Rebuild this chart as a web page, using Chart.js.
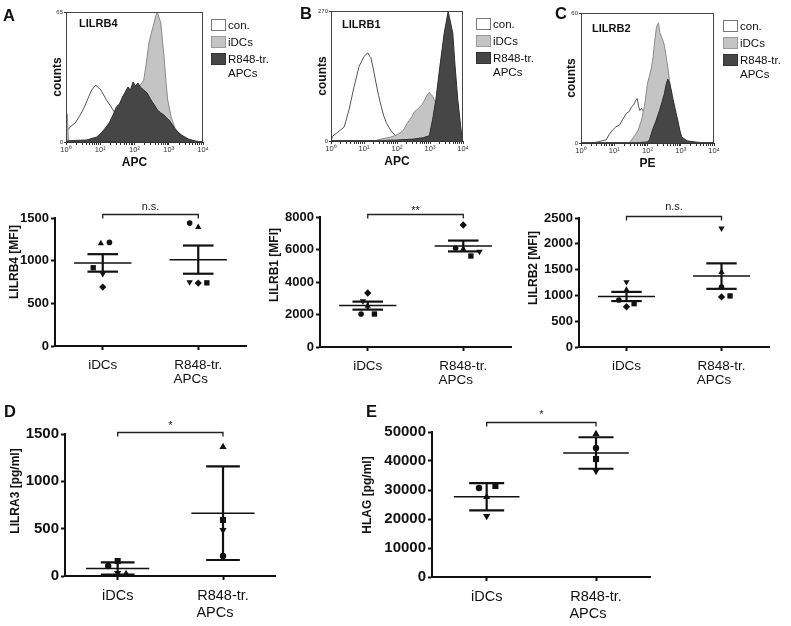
<!DOCTYPE html>
<html>
<head>
<meta charset="utf-8">
<title>LILR receptors on iDCs and R848-treated APCs</title>
<script src="https://cdn.jsdelivr.net/npm/chart.js@4.4.1/dist/chart.umd.min.js"></script>
<style>
  body { margin: 0; background: #fff; }
  #fig { position: relative; width: 791px; height: 626px; overflow: hidden; font-family: "Liberation Sans", Arial, sans-serif; color: #111; }
  #fig canvas, #fig .txt, #fig .legbox { position: absolute; }
  .letter { font-size: 16.5px; font-weight: bold; line-height: 1; }
  .ytitle { font-size: 12px; font-weight: bold; white-space: nowrap; line-height: 1; transform: translate(-50%, -50%) rotate(-90deg); }
  .marker { font-size: 11px; font-weight: bold; line-height: 1; transform: translateY(-50%); }
  .legtxt { font-size: 11.5px; line-height: 14px; white-space: nowrap; }
  .legbox { width: 13px; height: 10px; }
</style>
</head>
<body>
<div id="fig"></div>
<script>
// ---------- flow cytometry histograms (x = log10 of fluorescence, y = counts) ----------
const histLegend = ['con.', 'iDCs', ['R848-tr.', 'APCs']];

// A - LILRB4 (APC)
const b4ConLog  = [0.0, 0.05, 0.15, 0.27, 0.36, 0.45, 0.55, 0.66, 0.75, 0.82, 0.87, 0.92, 1.0, 1.1, 1.2, 1.3, 1.41, 1.5, 1.6, 1.8, 2.0, 2.3, 2.6, 4.0];
const b4ConCnt  = [0, 6, 8, 9.5, 12, 14.5, 18, 22.5, 26, 27.5, 28.5, 27.5, 26.5, 23.5, 20.5, 18, 15, 13, 10, 6, 3, 1, 0, 0];
const b4iDCLog  = [0.0, 0.04, 0.07, 0.5, 1.0, 1.5, 1.8, 2.0, 2.15, 2.27, 2.35, 2.42, 2.5, 2.57, 2.62, 2.67, 2.72, 2.77, 2.82, 2.87, 2.92, 2.97, 3.07, 3.2, 3.4, 3.6, 3.8, 4.0];
const b4iDCCnt  = [14, 14, 0.5, 0.3, 0.5, 8, 18, 25, 28, 31, 40, 49.5, 55, 59.5, 63, 65, 62, 59.5, 50, 41, 30, 21, 12.5, 6, 3, 1, 0.3, 0];
const b4R848Log = [0.0, 0.3, 0.6, 0.9, 1.05, 1.15, 1.26, 1.36, 1.47, 1.56, 1.65, 1.73, 1.81, 1.88, 1.96, 2.03, 2.1, 2.17, 2.27, 2.37, 2.45, 2.52, 2.6, 2.67, 2.77, 2.86, 2.94, 3.01, 3.09, 3.17, 3.27, 3.37, 3.47, 3.57, 3.77, 4.0];
const b4R848Cnt = [0.5, 0.8, 1, 2.5, 5, 7, 9.5, 13, 17.5, 19, 22.5, 25, 27.5, 26, 30, 28, 29.5, 27.5, 26, 24.5, 22, 20, 18, 16, 14.5, 13.5, 12, 11, 9, 7, 5, 3.5, 2.5, 1.5, 0.5, 0];

// B - LILRB1 (APC)
const b1ConLog  = [0.0, 0.05, 0.2, 0.4, 0.55, 0.7, 0.85, 1.0, 1.06, 1.12, 1.17, 1.21, 1.28, 1.36, 1.44, 1.52, 1.6, 1.67, 1.75, 1.82, 1.97, 2.12, 2.4, 2.7, 4.0];
const b1ConCnt  = [0, 10, 18, 29, 66, 113, 155, 175, 180, 183, 176, 173, 150, 122, 95, 72, 52, 39, 29, 21, 10, 4, 1, 0, 0];
const b1iDCLog  = [0.0, 1.3, 1.52, 1.8, 1.97, 2.18, 2.33, 2.45, 2.52, 2.62, 2.72, 2.8, 2.88, 2.97, 3.03, 3.08, 3.18, 3.3, 3.4, 3.6, 3.8, 4.0];
const b1iDCCnt  = [0, 0, 4, 8, 12, 21, 39, 50, 60, 66, 72, 80, 91, 101, 97, 93, 78, 40, 15, 3, 0, 0];
const b1R848Log = [0.0, 1.0, 2.0, 2.5, 2.8, 2.98, 3.08, 3.18, 3.3, 3.43, 3.55, 3.69, 3.76, 3.84, 3.96, 4.0];
const b1R848Cnt = [0, 0, 2, 4, 7, 11, 45, 87, 155, 224, 269, 224, 155, 87, 11, 2];

// C - LILRB2 (PE)
const b2ConLog  = [0.0, 0.3, 0.5, 0.76, 0.85, 0.95, 1.05, 1.16, 1.22, 1.26, 1.32, 1.37, 1.45, 1.52, 1.58, 1.65, 1.69, 1.73, 1.77, 1.82, 1.86, 1.93, 2.0, 2.1, 2.3, 2.6, 4.0];
const b2ConCnt  = [0, 0, 0.5, 1.5, 4, 6, 7.5, 8.3, 10, 11, 12.5, 13.8, 14.5, 16.7, 17.5, 19.8, 20.5, 17, 15, 16, 15, 13.5, 11, 8, 3, 0, 0];
const b2iDCLog  = [0.0, 1.45, 1.6, 1.72, 1.82, 1.92, 2.0, 2.06, 2.12, 2.17, 2.21, 2.27, 2.33, 2.37, 2.42, 2.47, 2.51, 2.56, 2.61, 2.66, 2.72, 2.8, 2.9, 3.0, 3.2, 4.0];
const b2iDCCnt  = [0, 0, 3, 6, 10.6, 18, 27.6, 31, 35, 40, 46, 53.5, 55.5, 51, 49, 47, 45, 40, 35, 29, 22, 14, 7, 2, 0.5, 0];
const b2R848Log = [0.0, 1.5, 2.0, 2.06, 2.15, 2.25, 2.36, 2.44, 2.51, 2.56, 2.61, 2.66, 2.72, 2.77, 2.82, 2.87, 2.91, 2.97, 3.03, 3.18, 3.5, 4.0];
const b2R848Cnt = [0, 0, 0.5, 1.5, 6, 10, 15, 19, 23, 27, 29.5, 28, 24, 20, 16.6, 13, 10.6, 6, 2.8, 1, 0.3, 0];

// ---------- dot plots (one value per donor) ----------
const groupLabels = ['iDCs', ['R848-tr.', 'APCs    ']];

const lilrb4_iDCs = [1214, 917, 1202, 845, 690];
const lilrb4_R848 = [1440, 740, 1393, 750, 738];
const lilrb1_iDCs = [2030, 2030, 2520, 2830, 3323];
const lilrb1_R848 = [6074, 5600, 6030, 5865, 7508];
const lilrb2_iDCs = [910, 840, 1105, 1260, 780];
const lilrb2_R848 = [1160, 990, 1450, 2300, 970];
const lilra3_iDCs = [106, 158, 21, 32];
const lilra3_R848 = [211, 592, 1364, 486];
const hlag_iDCs = [30690, 31380, 27590, 21030];
const hlag_R848 = [44480, 40690, 49300, 36550];

const donors5 = ['circle', 'square', 'triangle', 'invTriangle', 'diamond'];
const donors4 = ['circle', 'square', 'triangle', 'invTriangle'];

// ---------- drawing ----------
Chart.defaults.animation = false;
Chart.defaults.responsive = false;
Chart.defaults.font.family = '"Liberation Sans", Arial, Helvetica, sans-serif';
Chart.defaults.color = '#111';
Chart.defaults.plugins.legend.display = false;
Chart.defaults.plugins.tooltip.enabled = false;

const fig = document.getElementById('fig');
const SUP = ['\u2070', '\u00b9', '\u00b2', '\u00b3', '\u2074'];
const FILL = { con: '#ffffff', iDCs: '#c4c4c4', R848: '#464646' };
const LINE = { con: '#555555', iDCs: '#8a8a8a', R848: '#2e2e2e' };
const BOXLINE = { con: '#777777', iDCs: '#9a9a9a', R848: '#333333' };

function addText(cls, html, left, top) {
  const d = document.createElement('div');
  d.className = 'txt ' + cls;
  d.innerHTML = html;
  d.style.left = left + 'px';
  d.style.top = top + 'px';
  fig.appendChild(d);
  return d;
}

function addCanvas(left, top, w, h) {
  const cv = document.createElement('canvas');
  cv.width = w; cv.height = h;
  cv.style.left = left + 'px'; cv.style.top = top + 'px';
  fig.appendChild(cv);
  return cv;
}

function toPoints(logs, counts) {
  return logs.map((e, i) => ({ x: Math.pow(10, e), y: counts[i] }));
}

const frame = {
  id: 'frame',
  afterDatasetsDraw(chart) {
    const a = chart.chartArea, c = chart.ctx;
    c.save();
    c.strokeStyle = '#444';
    c.lineWidth = 1;
    c.strokeRect(a.left + 0.5, a.top + 0.5, a.right - a.left - 1, a.bottom - a.top - 1);
    c.restore();
  }
};

function drawHistogram(h) {
  const yw = 17;
  const left = h.plotL - yw, top = h.plotT - 8;
  const cv = addCanvas(left, top, h.plotR + 8 - left, h.plotB + 28 - top);
  const ds = (pts, key) => ({
    data: pts, fill: 'origin', backgroundColor: FILL[key], borderColor: LINE[key],
    borderWidth: 1, pointRadius: 0, tension: 0
  });
  new Chart(cv, {
    type: 'line',
    data: { datasets: [ds(h.r848, 'R848'), ds(h.idc, 'iDCs'), ds(h.con, 'con')] },
    options: {
      layout: { padding: { left: 0, top: 8, right: 8, bottom: 0 } },
      scales: {
        x: {
          type: 'logarithmic', min: 1, max: 10000,
          afterBuildTicks: s => {
            s.ticks = s.ticks.filter(t => {
              const m = t.value / Math.pow(10, Math.floor(Math.log10(t.value) + 1e-9));
              return Math.abs(m - 1.5) > 1e-6;
            });
          },
          ticks: {
            autoSkip: false, maxRotation: 0, minRotation: 0, padding: 0, color: '#333',
            font: { size: 7.5 },
            callback: v => {
              const e = Math.round(Math.log10(v));
              return Math.abs(Math.pow(10, e) - v) < 1e-9 ? '10' + SUP[e] : '';
            }
          },
          grid: { drawOnChartArea: false, tickLength: 3, color: '#333' },
          border: { color: '#333' },
          title: { display: true, text: h.xTitle, font: { size: 12, weight: 'bold' }, padding: { top: 0, bottom: 0 } },
          afterFit: s => { s.height = 28; }
        },
        y: {
          min: 0, max: h.yMax,
          afterBuildTicks: s => { s.ticks = [{ value: 0 }, { value: h.yMax }]; },
          ticks: { font: { size: 6 }, padding: 1, color: '#333' },
          grid: { drawOnChartArea: false, tickLength: 2, color: '#333' },
          border: { color: '#333' },
          title: { display: true, text: 'counts', font: { size: 12, weight: 'bold' },
                   padding: { top: Math.max(0, h.countsX - left - 7.2), bottom: 0 } },
          afterFit: s => { s.width = yw; }
        }
      }
    },
    plugins: [frame]
  });
  addText('marker', h.name, h.nameX, h.nameY);
  const keys = ['con', 'iDCs', 'R848'];
  histLegend.forEach((lab, i) => {
    const b = document.createElement('div');
    b.className = 'legbox';
    b.style.left = h.legX + 'px';
    b.style.top = (h.legY + i * 17) + 'px';
    b.style.background = FILL[keys[i]];
    b.style.border = '1px solid ' + BOXLINE[keys[i]];
    fig.appendChild(b);
    addText('legtxt', [].concat(lab).join('<br>'), h.legX + 17, h.legY + i * 17 - 1.5);
  });
}

drawHistogram({ name: 'LILRB4', xTitle: 'APC', yMax: 65, plotL: 66, plotR: 203, plotT: 12, plotB: 142, countsX: 57.5,
  nameX: 79, nameY: 23, legX: 211, legY: 19,
  con: toPoints(b4ConLog, b4ConCnt), idc: toPoints(b4iDCLog, b4iDCCnt), r848: toPoints(b4R848Log, b4R848Cnt) });
drawHistogram({ name: 'LILRB1', xTitle: 'APC', yMax: 270, plotL: 331, plotR: 463, plotT: 11, plotB: 141, countsX: 322.5,
  nameX: 342, nameY: 24, legX: 476, legY: 18,
  con: toPoints(b1ConLog, b1ConCnt), idc: toPoints(b1iDCLog, b1iDCCnt), r848: toPoints(b1R848Log, b1R848Cnt) });
drawHistogram({ name: 'LILRB2', xTitle: 'PE', yMax: 60, plotL: 581, plotR: 714, plotT: 13, plotB: 143, countsX: 571,
  nameX: 592, nameY: 28, legX: 723, legY: 20,
  con: toPoints(b2ConLog, b2ConCnt), idc: toPoints(b2iDCLog, b2iDCCnt), r848: toPoints(b2R848Log, b2R848Cnt) });

// ---------- dot plots with mean and error bars ----------
const MARK = {
  circle:      { style: 'circle',   rot: 0,   k: 1.0 },
  square:      { style: 'rect',     rot: 0,   k: 1.35 },
  triangle:    { style: 'triangle', rot: 0,   k: 1.3 },
  invTriangle: { style: 'triangle', rot: 180, k: 1.3 },
  diamond:     { style: 'rectRot',  rot: 0,   k: 1.3 }
};

function mean(a) { return a.reduce((s, v) => s + v, 0) / a.length; }
function sd(a) { const m = mean(a); return Math.sqrt(a.reduce((s, v) => s + (v - m) * (v - m), 0) / (a.length - 1)); }

const sigBracket = {
  id: 'sigBracket',
  afterDraw(chart, args, o) {
    const { ctx, chartArea, scales } = chart;
    const x0 = scales.x.getPixelForValue(0), x1 = scales.x.getPixelForValue(1);
    const y = Math.round(chartArea.top - o.lift) + 0.5;
    ctx.save();
    ctx.strokeStyle = '#222';
    ctx.lineWidth = 1.3;
    ctx.beginPath();
    ctx.moveTo(x0, y + 4); ctx.lineTo(x0, y); ctx.lineTo(x1, y); ctx.lineTo(x1, y + 4);
    ctx.stroke();
    ctx.fillStyle = '#222';
    ctx.font = '11px "Liberation Sans", Arial, sans-serif';
    ctx.textAlign = 'center';
    ctx.textBaseline = 'middle';
    ctx.fillText(o.text, (x0 + x1) / 2, chartArea.top - o.textLift);
    ctx.restore();
  }
};

function drawDotPlot(p) {
  const L = p.axisX - p.yw, T = p.top - 30;
  const cv = addCanvas(L, T, p.right + 3 - L, p.bottom + 45 - T);
  const datasets = [];
  p.values.forEach((vals, g) => {
    const m = mean(vals);
    const e = p.err === 'SD' ? sd(vals) : sd(vals) / Math.sqrt(vals.length);
    const seg = (xa, ya, xb, yb, w) => ({
      data: [{ x: xa, y: ya }, { x: xb, y: yb }], showLine: true,
      borderColor: '#111', borderWidth: w, pointRadius: 0, clip: false
    });
    datasets.push(seg(g - 0.3, m, g + 0.3, m, 1.5));
    datasets.push(seg(g - 0.16, m + e, g + 0.16, m + e, 2.2));
    datasets.push(seg(g - 0.16, m - e, g + 0.16, m - e, 2.2));
    datasets.push(seg(g, m - e, g, m + e, 2.2));
    const mk = p.donors.map(s => MARK[s]);
    datasets.push({
      data: vals.map((v, i) => ({ x: g + p.jitter[g][i], y: v })),
      pointStyle: mk.map(s => s.style),
      pointRotation: mk.map(s => s.rot),
      pointRadius: mk.map(s => s.k * p.mr),
      pointBackgroundColor: '#111', pointBorderWidth: 0, clip: false
    });
  });
  new Chart(cv, {
    type: 'scatter',
    data: { datasets },
    options: {
      layout: { padding: { left: 0, top: 30, right: 3, bottom: 0 } },
      scales: {
        x: {
          type: 'linear', min: -0.5, max: 1.5,
          afterBuildTicks: s => { s.ticks = [{ value: 0 }, { value: 1 }]; },
          ticks: { callback: v => groupLabels[v], autoSkip: false, maxRotation: 0, padding: p.catPad,
                   font: { size: p.catSize, lineHeight: p.catLine }, color: '#111' },
          grid: { drawOnChartArea: false, tickLength: 4, tickWidth: 2, color: '#111' },
          border: { color: '#111', width: 2 },
          afterFit: s => { s.height = 45; }
        },
        y: {
          type: 'linear', min: 0, max: p.yMax,
          ticks: { stepSize: p.yStep, padding: 2, color: '#111', callback: v => String(v),
                   font: { size: p.tickSize, weight: 'bold' } },
          grid: { drawOnChartArea: false, tickLength: 4, tickWidth: 2, color: '#111' },
          border: { color: '#111', width: 2 },
          afterFit: s => { s.width = p.yw; }
        }
      },
      plugins: { sigBracket: { text: p.sig, lift: p.lift, textLift: p.textLift } }
    },
    plugins: [sigBracket]
  });
  addText('ytitle', p.yTitle, p.titleX, p.titleY);
}

drawDotPlot({ values: [lilrb4_iDCs, lilrb4_R848], donors: donors5, err: 'SEM', sig: 'n.s.',
  jitter: [[0.07, -0.1, -0.02, 0, 0], [-0.09, 0.09, 0, -0.09, 0]],
  yMax: 1500, yStep: 500, yTitle: 'LILRB4 [MFI]', titleX: 14, titleY: 262,
  axisX: 55, top: 218, bottom: 346, right: 247, yw: 52, tickSize: 13, catSize: 13.5, catLine: 1.1, catPad: 7.4, mr: 2.8, lift: 4, textLift: 11 });
drawDotPlot({ values: [lilrb1_iDCs, lilrb1_R848], donors: donors5, err: 'SEM', sig: '**',
  jitter: [[-0.07, 0.07, 0, -0.05, 0], [-0.08, 0.08, 0, 0.17, 0]],
  yMax: 8000, yStep: 2000, yTitle: 'LILRB1 [MFI]', titleX: 274, titleY: 265,
  axisX: 320, top: 217, bottom: 347, right: 512, yw: 52, tickSize: 13, catSize: 13.5, catLine: 1.1, catPad: 7.4, mr: 2.8, lift: 3, textLift: 6 });
drawDotPlot({ values: [lilrb2_iDCs, lilrb2_R848], donors: donors5, err: 'SEM', sig: 'n.s.',
  jitter: [[-0.08, 0.08, 0, 0, 0], [0, 0.09, 0, 0, 0]],
  yMax: 2500, yStep: 500, yTitle: 'LILRB2 [MFI]', titleX: 533, titleY: 268,
  axisX: 579, top: 218, bottom: 347, right: 770, yw: 52, tickSize: 13, catSize: 13.5, catLine: 1.1, catPad: 7.4, mr: 2.8, lift: 2, textLift: 11 });
drawDotPlot({ values: [lilra3_iDCs, lilra3_R848], donors: donors4, err: 'SD', sig: '*',
  jitter: [[-0.09, 0, 0.08, 0], [0, 0, 0, 0]],
  yMax: 1500, yStep: 500, yTitle: 'LILRA3 [pg/ml]', titleX: 15, titleY: 491,
  axisX: 65, top: 434, bottom: 576, right: 277, yw: 55, tickSize: 15, catSize: 14.5, catLine: 1.17, catPad: 7.5, mr: 3.2, lift: 2, textLift: 8 });
drawDotPlot({ values: [hlag_iDCs, hlag_R848], donors: donors4, err: 'SD', sig: '*',
  jitter: [[-0.07, 0.08, 0, 0], [0, 0, 0, 0]],
  yMax: 50000, yStep: 10000, yTitle: 'HLAG [pg/ml]', titleX: 367, titleY: 495,
  axisX: 432, top: 432, bottom: 577, right: 652, yw: 60, tickSize: 15, catSize: 14.5, catLine: 1.17, catPad: 7.5, mr: 3.2, lift: 10, textLift: 17.5 });

// panel letters
addText('letter', 'A', 3, 7);
addText('letter', 'B', 300, 5);
addText('letter', 'C', 555, 5);
addText('letter', 'D', 4, 403);
addText('letter', 'E', 366, 403);
</script>
</body>
</html>
